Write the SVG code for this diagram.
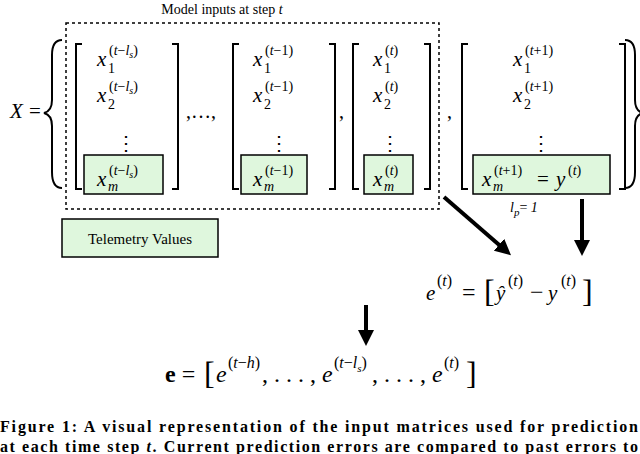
<svg xmlns="http://www.w3.org/2000/svg" width="640" height="454" viewBox="0 0 640 454" font-family="'Liberation Serif', 'DejaVu Serif', serif">
<defs>
<style>
text{font-family:'Liberation Serif','DejaVu Serif',serif;fill:#000}
.m{font-style:italic;font-size:21px}
.s{font-size:14px}
.i{font-style:italic}
.br{fill:none;stroke:#000;stroke-width:2}
.g{fill:#dff7dd;stroke:#000;stroke-width:1.5}
.cap{font-weight:bold;font-size:16px}
</style>
<marker id="ah" markerWidth="4" markerHeight="4" refX="2" refY="2" orient="auto" markerUnits="strokeWidth"><path d="M0,0L4,2L0,4z" fill="#000"/></marker>
</defs>
<g id="title"><text x="222" y="14" font-size="14" text-anchor="middle">Model inputs at step <tspan class="i">t</tspan></text></g>
<g id="dotted"><rect x="66" y="23" width="373" height="186" fill="none" stroke="#000" stroke-width="1.5" stroke-dasharray="3,3"/></g>
<g id="X">
<text x="10" y="118" class="m">X</text><text x="29" y="118" font-size="21">=</text>
<path class="br" d="M62,40 Q52,40 52,55 L52,100 Q52,111 44,113 Q52,115 52,126 L52,172 Q52,188 62,188"/>
<path class="br" d="M625,40 Q635,40 635,55 L635,100 Q635,111 643,113 Q635,115 635,126 L635,172 Q635,188 625,188"/>
</g>
<g id="m1">
<path class="br" d="M82,44 H76 V189 H82 M172,44 H178 V189 H172"/>
<rect class="g" x="84" y="155" width="79" height="39"/>
<text x="97" y="66" class="m">x</text><text x="109" y="55" class="s">(<tspan class="i">t</tspan>−<tspan class="i">l<tspan font-size="10" dy="3">s</tspan></tspan><tspan dy="-3">)</tspan></text><text x="108" y="73" class="s">1</text>
<text x="97" y="102" class="m">x</text><text x="109" y="91" class="s">(<tspan class="i">t</tspan>−<tspan class="i">l<tspan font-size="10" dy="3">s</tspan></tspan><tspan dy="-3">)</tspan></text><text x="108" y="109" class="s">2</text>
<text x="126" y="150" font-size="20" text-anchor="middle">⋮</text>
<text x="97" y="186" class="m">x</text><text x="109" y="175" class="s">(<tspan class="i">t</tspan>−<tspan class="i">l<tspan font-size="10" dy="3">s</tspan></tspan><tspan dy="-3">)</tspan></text><text x="108" y="191" class="s i">m</text>
</g>
<text x="186" y="118" font-size="20">,…,</text>
<g id="m2">
<path class="br" d="M239,44 H233 V189 H239 M329,44 H335 V189 H329"/>
<rect class="g" x="241" y="155" width="66" height="39"/>
<text x="253" y="66" class="m">x</text><text x="265" y="55" class="s">(<tspan class="i">t</tspan>−1)</text><text x="264" y="73" class="s">1</text>
<text x="253" y="102" class="m">x</text><text x="265" y="91" class="s">(<tspan class="i">t</tspan>−1)</text><text x="264" y="109" class="s">2</text>
<text x="279" y="150" font-size="20" text-anchor="middle">⋮</text>
<text x="253" y="186" class="m">x</text><text x="265" y="175" class="s">(<tspan class="i">t</tspan>−1)</text><text x="264" y="191" class="s i">m</text>
</g>
<text x="339" y="118" font-size="20">,</text>
<g id="m3">
<path class="br" d="M359,44 H353 V189 H359 M424,44 H430 V189 H424"/>
<rect class="g" x="364" y="155" width="49" height="39"/>
<text x="373" y="66" class="m">x</text><text x="385" y="55" class="s">(<tspan class="i">t</tspan>)</text><text x="384" y="73" class="s">1</text>
<text x="373" y="102" class="m">x</text><text x="385" y="91" class="s">(<tspan class="i">t</tspan>)</text><text x="384" y="109" class="s">2</text>
<text x="390" y="150" font-size="20" text-anchor="middle">⋮</text>
<text x="373" y="186" class="m">x</text><text x="385" y="175" class="s">(<tspan class="i">t</tspan>)</text><text x="384" y="191" class="s i">m</text>
</g>
<text x="447" y="118" font-size="20">,</text>
<g id="m4">
<path class="br" d="M468,44 H462 V189 H468 M619,44 H625 V189 H619"/>
<rect class="g" x="473" y="155" width="137" height="39"/>
<text x="513" y="66" class="m">x</text><text x="525" y="55" class="s">(<tspan class="i">t</tspan>+1)</text><text x="524" y="73" class="s">1</text>
<text x="513" y="102" class="m">x</text><text x="525" y="91" class="s">(<tspan class="i">t</tspan>+1)</text><text x="524" y="109" class="s">2</text>
<text x="541" y="150" font-size="20" text-anchor="middle">⋮</text>
<text x="482" y="186" class="m">x</text><text x="494" y="175" class="s">(<tspan class="i">t</tspan>+1)</text><text x="493" y="191" class="s i">m</text>
<text x="537" y="186" font-size="21">=</text>
<text x="556" y="186" class="m">y</text><text x="568" y="175" class="s">(<tspan class="i">t</tspan>)</text>
<text x="510" y="212" font-size="14" class="i">l<tspan font-size="11" dy="4">p</tspan><tspan dy="-4" font-style="normal">=  </tspan>1</text>
</g>
<g id="telemetry"><rect class="g" x="62" y="219" width="156" height="38"/><text x="140" y="244" font-size="15" text-anchor="middle">Telemetry Values</text></g>
<g id="connectors" stroke="#000" stroke-width="4">
<line x1="444" y1="197" x2="505" y2="250" marker-end="url(#ah)"/>
<line x1="582" y1="199" x2="582" y2="248" marker-end="url(#ah)"/>
<line x1="366" y1="305" x2="366" y2="338" marker-end="url(#ah)"/>
</g>
<g id="eq1">
<text x="426" y="300" class="m" font-size="24">e</text><text x="437" y="286" font-size="16">(<tspan class="i">t</tspan>)</text>
<text x="462" y="300" font-size="24">=</text>
<text x="484" y="302" font-size="32">[</text>
<text x="496" y="300" class="m" font-size="24">ŷ</text><text x="508" y="286" font-size="16">(<tspan class="i">t</tspan>)</text>
<text x="530" y="300" font-size="24">−</text>
<text x="548" y="300" class="m" font-size="24">y</text><text x="561" y="286" font-size="16">(<tspan class="i">t</tspan>)</text>
<text x="582" y="302" font-size="32">]</text>
</g>
<g id="eq2">
<text x="165" y="382" font-size="24"><tspan font-weight="bold">e</tspan> =</text>
<text x="204" y="384" font-size="32">[</text>
<text x="216" y="382" font-size="24" class="i">e</text><text x="228" y="368" font-size="16">(<tspan class="i">t</tspan>−<tspan class="i">h</tspan>)</text>
<text x="262" y="382" font-size="24">, . . . ,</text>
<text x="322" y="382" font-size="24" class="i">e</text><text x="334" y="368" font-size="16">(<tspan class="i">t</tspan>−<tspan class="i">l<tspan font-size="11" dy="4">s</tspan></tspan><tspan dy="-4">)</tspan></text>
<text x="372" y="382" font-size="24">, . . . ,</text>
<text x="432" y="382" font-size="24" class="i">e</text><text x="444" y="368" font-size="16">(<tspan class="i">t</tspan>)</text>
<text x="466" y="384" font-size="32">]</text>
</g>
<g id="caption">
<text x="0" y="432" class="cap" textLength="638" lengthAdjust="spacing">Figure 1: A visual representation of the input matrices used for prediction</text>
<text x="0" y="452" class="cap" textLength="638" lengthAdjust="spacing">at each time step <tspan class="i">t</tspan>. Current prediction errors are compared to past errors to</text>
</g>
</svg>
